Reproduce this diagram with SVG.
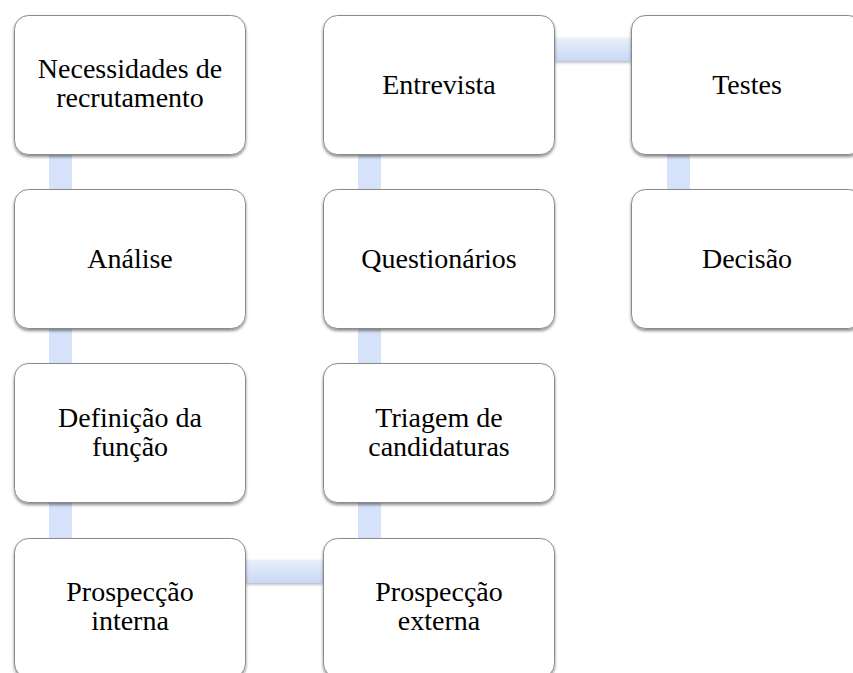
<svg xmlns="http://www.w3.org/2000/svg" width="853" height="673" viewBox="0 0 853 673">
  <style>
    .box { fill: #ffffff; stroke: #8a8a8a; stroke-width: 1; filter: url(#sh); }
    .lbl { font-family: "Liberation Serif", "Times New Roman", serif; font-size: 28px; fill: #000000; text-anchor: middle; }
    .vc { fill: #d5e2f9; }
    .hc { fill: url(#hg); filter: url(#csh); }
  </style>
  <defs>
    <filter id="sh" x="-10%" y="-10%" width="120%" height="125%">
      <feDropShadow dx="0" dy="2" stdDeviation="1.8" flood-color="#000000" flood-opacity="0.45"/>
    </filter>
    <filter id="csh" x="-10%" y="-30%" width="120%" height="180%">
      <feDropShadow dx="0" dy="1.5" stdDeviation="1.5" flood-color="#000000" flood-opacity="0.3"/>
    </filter>
    <linearGradient id="hg" x1="0" y1="0" x2="0" y2="1">
      <stop offset="0" stop-color="#e8eefb"/>
      <stop offset="1" stop-color="#c8d8f5"/>
    </linearGradient>
  </defs>

  <g id="connectors">
    <rect class="vc" x="49" y="154" width="23" height="36"/>
    <rect class="vc" x="49" y="329" width="23" height="35"/>
    <rect class="vc" x="49" y="503" width="23" height="35"/>
    <rect class="hc" x="246" y="560" width="77" height="23"/>
    <rect class="vc" x="358" y="503" width="23" height="35"/>
    <rect class="vc" x="358" y="329" width="23" height="35"/>
    <rect class="vc" x="358" y="154" width="23" height="36"/>
    <rect class="hc" x="555" y="38" width="76" height="23"/>
    <rect class="vc" x="667" y="154" width="23" height="36"/>
  </g>

  <g id="n1">
    <rect class="box" x="14.5" y="15.5" width="231" height="139" rx="14"/>
    <text class="lbl" x="130" y="78">Necessidades de</text>
    <text class="lbl" x="130" y="107">recrutamento</text>
  </g>
  <g id="n2">
    <rect class="box" x="14.5" y="189.5" width="231" height="139" rx="14"/>
    <text class="lbl" x="130" y="268">Análise</text>
  </g>
  <g id="n3">
    <rect class="box" x="14.5" y="363.5" width="231" height="139" rx="14"/>
    <text class="lbl" x="130" y="427">Definição da</text>
    <text class="lbl" x="130" y="456">função</text>
  </g>
  <g id="n4">
    <rect class="box" x="14.5" y="538.5" width="231" height="139" rx="14"/>
    <text class="lbl" x="130" y="601">Prospecção</text>
    <text class="lbl" x="130" y="630">interna</text>
  </g>
  <g id="n5">
    <rect class="box" x="323.5" y="538.5" width="231" height="139" rx="14"/>
    <text class="lbl" x="439" y="601">Prospecção</text>
    <text class="lbl" x="439" y="630">externa</text>
  </g>
  <g id="n6">
    <rect class="box" x="323.5" y="363.5" width="231" height="139" rx="14"/>
    <text class="lbl" x="439" y="427">Triagem de</text>
    <text class="lbl" x="439" y="456">candidaturas</text>
  </g>
  <g id="n7">
    <rect class="box" x="323.5" y="189.5" width="231" height="139" rx="14"/>
    <text class="lbl" x="439" y="268">Questionários</text>
  </g>
  <g id="n8">
    <rect class="box" x="323.5" y="15.5" width="231" height="139" rx="14"/>
    <text class="lbl" x="439" y="94">Entrevista</text>
  </g>
  <g id="n9">
    <rect class="box" x="631.5" y="15.5" width="231" height="139" rx="14"/>
    <text class="lbl" x="747" y="94">Testes</text>
  </g>
  <g id="n10">
    <rect class="box" x="631.5" y="189.5" width="231" height="139" rx="14"/>
    <text class="lbl" x="747" y="268">Decisão</text>
  </g>
</svg>
